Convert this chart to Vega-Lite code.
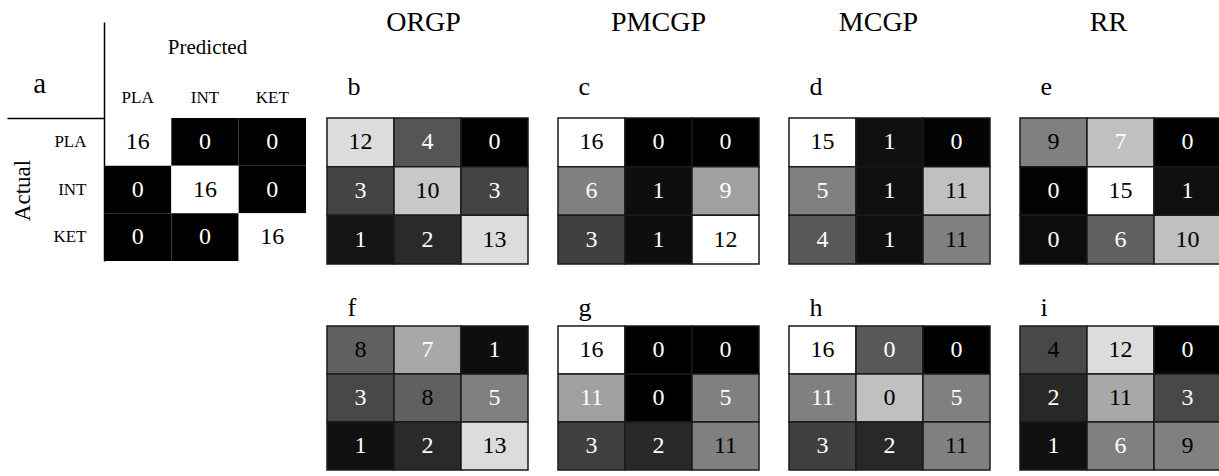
{
  "$schema": "https://vega.github.io/schema/vega-lite/v6.json",
  "background": "white",
  "padding": {"left": 6, "top": 9, "right": 0, "bottom": 0},
  "config": {
    "view": {"stroke": null},
    "font": "Liberation Serif",
    "axis": {"labelFont": "Liberation Serif", "titleFont": "Liberation Serif", "titleFontWeight": "normal", "labelColor": "black", "titleColor": "black", "grid": false},
    "title": {"font": "Liberation Serif", "fontWeight": "normal", "color": "black"}
  },
  "datasets": {
    "cells": [
      {"panel": "a", "actual": "PLA", "predicted": "PLA", "count": 16, "level": 255, "ink": "dark"},
      {"panel": "a", "actual": "PLA", "predicted": "INT", "count": 0, "level": 0, "ink": "light"},
      {"panel": "a", "actual": "PLA", "predicted": "KET", "count": 0, "level": 0, "ink": "light"},
      {"panel": "a", "actual": "INT", "predicted": "PLA", "count": 0, "level": 0, "ink": "light"},
      {"panel": "a", "actual": "INT", "predicted": "INT", "count": 16, "level": 255, "ink": "dark"},
      {"panel": "a", "actual": "INT", "predicted": "KET", "count": 0, "level": 0, "ink": "light"},
      {"panel": "a", "actual": "KET", "predicted": "PLA", "count": 0, "level": 0, "ink": "light"},
      {"panel": "a", "actual": "KET", "predicted": "INT", "count": 0, "level": 0, "ink": "light"},
      {"panel": "a", "actual": "KET", "predicted": "KET", "count": 16, "level": 255, "ink": "dark"},

      {"panel": "b", "actual": "PLA", "predicted": "PLA", "count": 12, "level": 220, "ink": "dark"},
      {"panel": "b", "actual": "PLA", "predicted": "INT", "count": 4, "level": 85, "ink": "light"},
      {"panel": "b", "actual": "PLA", "predicted": "KET", "count": 0, "level": 0, "ink": "light"},
      {"panel": "b", "actual": "INT", "predicted": "PLA", "count": 3, "level": 68, "ink": "light"},
      {"panel": "b", "actual": "INT", "predicted": "INT", "count": 10, "level": 200, "ink": "dark"},
      {"panel": "b", "actual": "INT", "predicted": "KET", "count": 3, "level": 68, "ink": "light"},
      {"panel": "b", "actual": "KET", "predicted": "PLA", "count": 1, "level": 20, "ink": "light"},
      {"panel": "b", "actual": "KET", "predicted": "INT", "count": 2, "level": 42, "ink": "light"},
      {"panel": "b", "actual": "KET", "predicted": "KET", "count": 13, "level": 220, "ink": "dark"},

      {"panel": "c", "actual": "PLA", "predicted": "PLA", "count": 16, "level": 255, "ink": "dark"},
      {"panel": "c", "actual": "PLA", "predicted": "INT", "count": 0, "level": 0, "ink": "light"},
      {"panel": "c", "actual": "PLA", "predicted": "KET", "count": 0, "level": 0, "ink": "light"},
      {"panel": "c", "actual": "INT", "predicted": "PLA", "count": 6, "level": 128, "ink": "light"},
      {"panel": "c", "actual": "INT", "predicted": "INT", "count": 1, "level": 14, "ink": "light"},
      {"panel": "c", "actual": "INT", "predicted": "KET", "count": 9, "level": 160, "ink": "light"},
      {"panel": "c", "actual": "KET", "predicted": "PLA", "count": 3, "level": 64, "ink": "light"},
      {"panel": "c", "actual": "KET", "predicted": "INT", "count": 1, "level": 14, "ink": "light"},
      {"panel": "c", "actual": "KET", "predicted": "KET", "count": 12, "level": 255, "ink": "dark"},

      {"panel": "d", "actual": "PLA", "predicted": "PLA", "count": 15, "level": 255, "ink": "dark"},
      {"panel": "d", "actual": "PLA", "predicted": "INT", "count": 1, "level": 16, "ink": "light"},
      {"panel": "d", "actual": "PLA", "predicted": "KET", "count": 0, "level": 4, "ink": "light"},
      {"panel": "d", "actual": "INT", "predicted": "PLA", "count": 5, "level": 128, "ink": "light"},
      {"panel": "d", "actual": "INT", "predicted": "INT", "count": 1, "level": 16, "ink": "light"},
      {"panel": "d", "actual": "INT", "predicted": "KET", "count": 11, "level": 192, "ink": "dark"},
      {"panel": "d", "actual": "KET", "predicted": "PLA", "count": 4, "level": 88, "ink": "light"},
      {"panel": "d", "actual": "KET", "predicted": "INT", "count": 1, "level": 16, "ink": "light"},
      {"panel": "d", "actual": "KET", "predicted": "KET", "count": 11, "level": 128, "ink": "dark"},

      {"panel": "e", "actual": "PLA", "predicted": "PLA", "count": 9, "level": 128, "ink": "dark"},
      {"panel": "e", "actual": "PLA", "predicted": "INT", "count": 7, "level": 192, "ink": "light"},
      {"panel": "e", "actual": "PLA", "predicted": "KET", "count": 0, "level": 0, "ink": "light"},
      {"panel": "e", "actual": "INT", "predicted": "PLA", "count": 0, "level": 2, "ink": "light"},
      {"panel": "e", "actual": "INT", "predicted": "INT", "count": 15, "level": 255, "ink": "dark"},
      {"panel": "e", "actual": "INT", "predicted": "KET", "count": 1, "level": 16, "ink": "light"},
      {"panel": "e", "actual": "KET", "predicted": "PLA", "count": 0, "level": 12, "ink": "light"},
      {"panel": "e", "actual": "KET", "predicted": "INT", "count": 6, "level": 96, "ink": "light"},
      {"panel": "e", "actual": "KET", "predicted": "KET", "count": 10, "level": 192, "ink": "dark"},

      {"panel": "f", "actual": "PLA", "predicted": "PLA", "count": 8, "level": 96, "ink": "dark"},
      {"panel": "f", "actual": "PLA", "predicted": "INT", "count": 7, "level": 168, "ink": "light"},
      {"panel": "f", "actual": "PLA", "predicted": "KET", "count": 1, "level": 14, "ink": "light"},
      {"panel": "f", "actual": "INT", "predicted": "PLA", "count": 3, "level": 72, "ink": "light"},
      {"panel": "f", "actual": "INT", "predicted": "INT", "count": 8, "level": 96, "ink": "dark"},
      {"panel": "f", "actual": "INT", "predicted": "KET", "count": 5, "level": 128, "ink": "light"},
      {"panel": "f", "actual": "KET", "predicted": "PLA", "count": 1, "level": 16, "ink": "light"},
      {"panel": "f", "actual": "KET", "predicted": "INT", "count": 2, "level": 42, "ink": "light"},
      {"panel": "f", "actual": "KET", "predicted": "KET", "count": 13, "level": 220, "ink": "dark"},

      {"panel": "g", "actual": "PLA", "predicted": "PLA", "count": 16, "level": 255, "ink": "dark"},
      {"panel": "g", "actual": "PLA", "predicted": "INT", "count": 0, "level": 0, "ink": "light"},
      {"panel": "g", "actual": "PLA", "predicted": "KET", "count": 0, "level": 0, "ink": "light"},
      {"panel": "g", "actual": "INT", "predicted": "PLA", "count": 11, "level": 160, "ink": "light"},
      {"panel": "g", "actual": "INT", "predicted": "INT", "count": 0, "level": 0, "ink": "light"},
      {"panel": "g", "actual": "INT", "predicted": "KET", "count": 5, "level": 128, "ink": "light"},
      {"panel": "g", "actual": "KET", "predicted": "PLA", "count": 3, "level": 64, "ink": "light"},
      {"panel": "g", "actual": "KET", "predicted": "INT", "count": 2, "level": 40, "ink": "light"},
      {"panel": "g", "actual": "KET", "predicted": "KET", "count": 11, "level": 128, "ink": "dark"},

      {"panel": "h", "actual": "PLA", "predicted": "PLA", "count": 16, "level": 255, "ink": "dark"},
      {"panel": "h", "actual": "PLA", "predicted": "INT", "count": 0, "level": 88, "ink": "light"},
      {"panel": "h", "actual": "PLA", "predicted": "KET", "count": 0, "level": 0, "ink": "light"},
      {"panel": "h", "actual": "INT", "predicted": "PLA", "count": 11, "level": 128, "ink": "light"},
      {"panel": "h", "actual": "INT", "predicted": "INT", "count": 0, "level": 192, "ink": "dark"},
      {"panel": "h", "actual": "INT", "predicted": "KET", "count": 5, "level": 128, "ink": "light"},
      {"panel": "h", "actual": "KET", "predicted": "PLA", "count": 3, "level": 64, "ink": "light"},
      {"panel": "h", "actual": "KET", "predicted": "INT", "count": 2, "level": 40, "ink": "light"},
      {"panel": "h", "actual": "KET", "predicted": "KET", "count": 11, "level": 128, "ink": "dark"},

      {"panel": "i", "actual": "PLA", "predicted": "PLA", "count": 4, "level": 72, "ink": "dark"},
      {"panel": "i", "actual": "PLA", "predicted": "INT", "count": 12, "level": 220, "ink": "dark"},
      {"panel": "i", "actual": "PLA", "predicted": "KET", "count": 0, "level": 0, "ink": "light"},
      {"panel": "i", "actual": "INT", "predicted": "PLA", "count": 2, "level": 40, "ink": "light"},
      {"panel": "i", "actual": "INT", "predicted": "INT", "count": 11, "level": 168, "ink": "dark"},
      {"panel": "i", "actual": "INT", "predicted": "KET", "count": 3, "level": 72, "ink": "light"},
      {"panel": "i", "actual": "KET", "predicted": "PLA", "count": 1, "level": 16, "ink": "light"},
      {"panel": "i", "actual": "KET", "predicted": "INT", "count": 6, "level": 128, "ink": "light"},
      {"panel": "i", "actual": "KET", "predicted": "KET", "count": 9, "level": 128, "ink": "dark"}
    ]
  },
  "columns": 5,
  "align": "each",
  "spacing": {"row": 29, "column": 20},
  "concat": [
    {
      "width": 202, "height": 143,
      "data": {"name": "cells"},
      "transform": [{"filter": "datum.panel === 'a'"}],
      "title": {"text": "a", "fontSize": 29, "anchor": "start", "frame": "bounds", "dx": 27, "dy": 101, "offset": 0, "baseline": "alphabetic"},
      "encoding": {
        "x": {"field": "predicted", "type": "nominal", "sort": ["PLA", "INT", "KET"], "scale": {"paddingInner": 0, "paddingOuter": 0},
          "axis": {"orient": "top", "title": "Predicted", "titleFontSize": 21, "titleX": 103, "titleY": -65, "titleAlign": "center", "titleBaseline": "alphabetic",
            "labelFontSize": 17, "labelAngle": 0, "labelAlign": "center", "labelBaseline": "alphabetic", "labelPadding": -80, "labelOffset": 0,
            "bandPosition": 0, "tickSize": 96, "tickWidth": 1.5,
            "tickColor": {"condition": {"test": "datum.value === 'PLA'", "value": "black"}, "value": "transparent"},
            "domain": false}},
        "y": {"field": "actual", "type": "nominal", "sort": ["PLA", "INT", "KET"], "scale": {"paddingInner": 0, "paddingOuter": 0},
          "axis": {"orient": "left", "title": "Actual", "titleFontSize": 23, "titleX": -82, "titleY": 72, "titleAngle": -90, "titleAlign": "center", "titleBaseline": "middle",
            "labelFontSize": 17, "labelAlign": "right", "labelBaseline": "middle", "labelPadding": -79, "labelOffset": 0,
            "bandPosition": 0, "tickSize": 97, "tickWidth": 1.5,
            "tickColor": {"condition": {"test": "datum.value === 'PLA'", "value": "black"}, "value": "transparent"},
            "domain": true, "domainColor": "black", "domainWidth": 1.5}}
      },
      "layer": [
        {"mark": {"type": "rect"}, "encoding": {"fill": {"field": "level", "type": "quantitative", "scale": {"domain": [0, 255], "range": ["#000000", "#ffffff"], "interpolate": "rgb"}, "legend": null}}},
        {"mark": {"type": "text", "fontSize": 24, "font": "Liberation Serif"}, "encoding": {"text": {"field": "count", "type": "quantitative", "format": "d"}, "color": {"field": "ink", "type": "nominal", "scale": {"domain": ["dark", "light"], "range": ["#000000", "#ffffff"]}, "legend": null}}}
      ]
    },
    {
      "width": 201, "height": 146,
      "data": {"name": "cells"},
      "transform": [{"filter": "datum.panel === 'b'"}],
      "title": {"text": "ORGP", "fontSize": 28, "offset": 14, "baseline": "alphabetic", "dx": -4},
      "encoding": {
        "x": {"field": "predicted", "type": "nominal", "sort": ["PLA", "INT", "KET"], "scale": {"paddingInner": 0, "paddingOuter": 0},
          "axis": {"orient": "top", "title": "b", "labels": false, "ticks": false, "domain": false, "titleFontSize": 26, "titleX": 20, "titleY": -24, "titleAlign": "left", "titleBaseline": "alphabetic"}},
        "y": {"field": "actual", "type": "nominal", "sort": ["PLA", "INT", "KET"], "scale": {"paddingInner": 0, "paddingOuter": 0}, "axis": null}
      },
      "layer": [
        {"mark": {"type": "rect", "stroke": "#1a1a1a", "strokeWidth": 1.5}, "encoding": {"fill": {"field": "level", "type": "quantitative", "scale": {"domain": [0, 255], "range": ["#000000", "#ffffff"], "interpolate": "rgb"}, "legend": null}}},
        {"mark": {"type": "text", "fontSize": 24, "font": "Liberation Serif"}, "encoding": {"text": {"field": "count", "type": "quantitative", "format": "d"}, "color": {"field": "ink", "type": "nominal", "scale": {"domain": ["dark", "light"], "range": ["#000000", "#ffffff"]}, "legend": null}}}
      ]
    },
    {
      "width": 201, "height": 146,
      "data": {"name": "cells"},
      "transform": [{"filter": "datum.panel === 'c'"}],
      "title": {"text": "PMCGP", "fontSize": 28, "offset": 14, "baseline": "alphabetic", "dx": 0},
      "encoding": {
        "x": {"field": "predicted", "type": "nominal", "sort": ["PLA", "INT", "KET"], "scale": {"paddingInner": 0, "paddingOuter": 0},
          "axis": {"orient": "top", "title": "c", "labels": false, "ticks": false, "domain": false, "titleFontSize": 26, "titleX": 20, "titleY": -24, "titleAlign": "left", "titleBaseline": "alphabetic"}},
        "y": {"field": "actual", "type": "nominal", "sort": ["PLA", "INT", "KET"], "scale": {"paddingInner": 0, "paddingOuter": 0},
          "axis": {"labels": false, "ticks": false, "domain": false, "title": null, "minExtent": 9, "maxExtent": 9}}
      },
      "layer": [
        {"mark": {"type": "rect", "stroke": "#1a1a1a", "strokeWidth": 1.5}, "encoding": {"fill": {"field": "level", "type": "quantitative", "scale": {"domain": [0, 255], "range": ["#000000", "#ffffff"], "interpolate": "rgb"}, "legend": null}}},
        {"mark": {"type": "text", "fontSize": 24, "font": "Liberation Serif"}, "encoding": {"text": {"field": "count", "type": "quantitative", "format": "d"}, "color": {"field": "ink", "type": "nominal", "scale": {"domain": ["dark", "light"], "range": ["#000000", "#ffffff"]}, "legend": null}}}
      ]
    },
    {
      "width": 201, "height": 146,
      "data": {"name": "cells"},
      "transform": [{"filter": "datum.panel === 'd'"}],
      "title": {"text": "MCGP", "fontSize": 28, "offset": 14, "baseline": "alphabetic", "dx": -11},
      "encoding": {
        "x": {"field": "predicted", "type": "nominal", "sort": ["PLA", "INT", "KET"], "scale": {"paddingInner": 0, "paddingOuter": 0},
          "axis": {"orient": "top", "title": "d", "labels": false, "ticks": false, "domain": false, "titleFontSize": 26, "titleX": 20, "titleY": -24, "titleAlign": "left", "titleBaseline": "alphabetic"}},
        "y": {"field": "actual", "type": "nominal", "sort": ["PLA", "INT", "KET"], "scale": {"paddingInner": 0, "paddingOuter": 0},
          "axis": {"labels": false, "ticks": false, "domain": false, "title": null, "minExtent": 9, "maxExtent": 9}}
      },
      "layer": [
        {"mark": {"type": "rect", "stroke": "#1a1a1a", "strokeWidth": 1.5}, "encoding": {"fill": {"field": "level", "type": "quantitative", "scale": {"domain": [0, 255], "range": ["#000000", "#ffffff"], "interpolate": "rgb"}, "legend": null}}},
        {"mark": {"type": "text", "fontSize": 24, "font": "Liberation Serif"}, "encoding": {"text": {"field": "count", "type": "quantitative", "format": "d"}, "color": {"field": "ink", "type": "nominal", "scale": {"domain": ["dark", "light"], "range": ["#000000", "#ffffff"]}, "legend": null}}}
      ]
    },
    {
      "width": 201, "height": 146,
      "data": {"name": "cells"},
      "transform": [{"filter": "datum.panel === 'e'"}],
      "title": {"text": "RR", "fontSize": 28, "offset": 14, "baseline": "alphabetic", "dx": -12},
      "encoding": {
        "x": {"field": "predicted", "type": "nominal", "sort": ["PLA", "INT", "KET"], "scale": {"paddingInner": 0, "paddingOuter": 0},
          "axis": {"orient": "top", "title": "e", "labels": false, "ticks": false, "domain": false, "titleFontSize": 26, "titleX": 20, "titleY": -24, "titleAlign": "left", "titleBaseline": "alphabetic"}},
        "y": {"field": "actual", "type": "nominal", "sort": ["PLA", "INT", "KET"], "scale": {"paddingInner": 0, "paddingOuter": 0},
          "axis": {"labels": false, "ticks": false, "domain": false, "title": null, "minExtent": 9, "maxExtent": 9}}
      },
      "layer": [
        {"mark": {"type": "rect", "stroke": "#1a1a1a", "strokeWidth": 1.5}, "encoding": {"fill": {"field": "level", "type": "quantitative", "scale": {"domain": [0, 255], "range": ["#000000", "#ffffff"], "interpolate": "rgb"}, "legend": null}}},
        {"mark": {"type": "text", "fontSize": 24, "font": "Liberation Serif"}, "encoding": {"text": {"field": "count", "type": "quantitative", "format": "d"}, "color": {"field": "ink", "type": "nominal", "scale": {"domain": ["dark", "light"], "range": ["#000000", "#ffffff"]}, "legend": null}}}
      ]
    },
    {
      "width": 10, "height": 10,
      "data": {"values": []},
      "mark": {"type": "point", "opacity": 0},
      "encoding": {}
    },
    {
      "width": 201, "height": 144,
      "data": {"name": "cells"},
      "transform": [{"filter": "datum.panel === 'f'"}],
      "encoding": {
        "x": {"field": "predicted", "type": "nominal", "sort": ["PLA", "INT", "KET"], "scale": {"paddingInner": 0, "paddingOuter": 0},
          "axis": {"orient": "top", "title": "f", "labels": false, "ticks": false, "domain": false, "titleFontSize": 26, "titleX": 20, "titleY": -11, "titleAlign": "left", "titleBaseline": "alphabetic"}},
        "y": {"field": "actual", "type": "nominal", "sort": ["PLA", "INT", "KET"], "scale": {"paddingInner": 0, "paddingOuter": 0}, "axis": null}
      },
      "layer": [
        {"mark": {"type": "rect", "stroke": "#1a1a1a", "strokeWidth": 1.5}, "encoding": {"fill": {"field": "level", "type": "quantitative", "scale": {"domain": [0, 255], "range": ["#000000", "#ffffff"], "interpolate": "rgb"}, "legend": null}}},
        {"mark": {"type": "text", "fontSize": 24, "font": "Liberation Serif"}, "encoding": {"text": {"field": "count", "type": "quantitative", "format": "d"}, "color": {"field": "ink", "type": "nominal", "scale": {"domain": ["dark", "light"], "range": ["#000000", "#ffffff"]}, "legend": null}}}
      ]
    },
    {
      "width": 201, "height": 144,
      "data": {"name": "cells"},
      "transform": [{"filter": "datum.panel === 'g'"}],
      "encoding": {
        "x": {"field": "predicted", "type": "nominal", "sort": ["PLA", "INT", "KET"], "scale": {"paddingInner": 0, "paddingOuter": 0},
          "axis": {"orient": "top", "title": "g", "labels": false, "ticks": false, "domain": false, "titleFontSize": 26, "titleX": 20, "titleY": -11, "titleAlign": "left", "titleBaseline": "alphabetic"}},
        "y": {"field": "actual", "type": "nominal", "sort": ["PLA", "INT", "KET"], "scale": {"paddingInner": 0, "paddingOuter": 0},
          "axis": {"labels": false, "ticks": false, "domain": false, "title": null, "minExtent": 9, "maxExtent": 9}}
      },
      "layer": [
        {"mark": {"type": "rect", "stroke": "#1a1a1a", "strokeWidth": 1.5}, "encoding": {"fill": {"field": "level", "type": "quantitative", "scale": {"domain": [0, 255], "range": ["#000000", "#ffffff"], "interpolate": "rgb"}, "legend": null}}},
        {"mark": {"type": "text", "fontSize": 24, "font": "Liberation Serif"}, "encoding": {"text": {"field": "count", "type": "quantitative", "format": "d"}, "color": {"field": "ink", "type": "nominal", "scale": {"domain": ["dark", "light"], "range": ["#000000", "#ffffff"]}, "legend": null}}}
      ]
    },
    {
      "width": 201, "height": 144,
      "data": {"name": "cells"},
      "transform": [{"filter": "datum.panel === 'h'"}],
      "encoding": {
        "x": {"field": "predicted", "type": "nominal", "sort": ["PLA", "INT", "KET"], "scale": {"paddingInner": 0, "paddingOuter": 0},
          "axis": {"orient": "top", "title": "h", "labels": false, "ticks": false, "domain": false, "titleFontSize": 26, "titleX": 20, "titleY": -11, "titleAlign": "left", "titleBaseline": "alphabetic"}},
        "y": {"field": "actual", "type": "nominal", "sort": ["PLA", "INT", "KET"], "scale": {"paddingInner": 0, "paddingOuter": 0},
          "axis": {"labels": false, "ticks": false, "domain": false, "title": null, "minExtent": 9, "maxExtent": 9}}
      },
      "layer": [
        {"mark": {"type": "rect", "stroke": "#1a1a1a", "strokeWidth": 1.5}, "encoding": {"fill": {"field": "level", "type": "quantitative", "scale": {"domain": [0, 255], "range": ["#000000", "#ffffff"], "interpolate": "rgb"}, "legend": null}}},
        {"mark": {"type": "text", "fontSize": 24, "font": "Liberation Serif"}, "encoding": {"text": {"field": "count", "type": "quantitative", "format": "d"}, "color": {"field": "ink", "type": "nominal", "scale": {"domain": ["dark", "light"], "range": ["#000000", "#ffffff"]}, "legend": null}}}
      ]
    },
    {
      "width": 201, "height": 144,
      "data": {"name": "cells"},
      "transform": [{"filter": "datum.panel === 'i'"}],
      "encoding": {
        "x": {"field": "predicted", "type": "nominal", "sort": ["PLA", "INT", "KET"], "scale": {"paddingInner": 0, "paddingOuter": 0},
          "axis": {"orient": "top", "title": "i", "labels": false, "ticks": false, "domain": false, "titleFontSize": 26, "titleX": 20, "titleY": -11, "titleAlign": "left", "titleBaseline": "alphabetic"}},
        "y": {"field": "actual", "type": "nominal", "sort": ["PLA", "INT", "KET"], "scale": {"paddingInner": 0, "paddingOuter": 0},
          "axis": {"labels": false, "ticks": false, "domain": false, "title": null, "minExtent": 9, "maxExtent": 9}}
      },
      "layer": [
        {"mark": {"type": "rect", "stroke": "#1a1a1a", "strokeWidth": 1.5}, "encoding": {"fill": {"field": "level", "type": "quantitative", "scale": {"domain": [0, 255], "range": ["#000000", "#ffffff"], "interpolate": "rgb"}, "legend": null}}},
        {"mark": {"type": "text", "fontSize": 24, "font": "Liberation Serif"}, "encoding": {"text": {"field": "count", "type": "quantitative", "format": "d"}, "color": {"field": "ink", "type": "nominal", "scale": {"domain": ["dark", "light"], "range": ["#000000", "#ffffff"]}, "legend": null}}}
      ]
    }
  ]
}
